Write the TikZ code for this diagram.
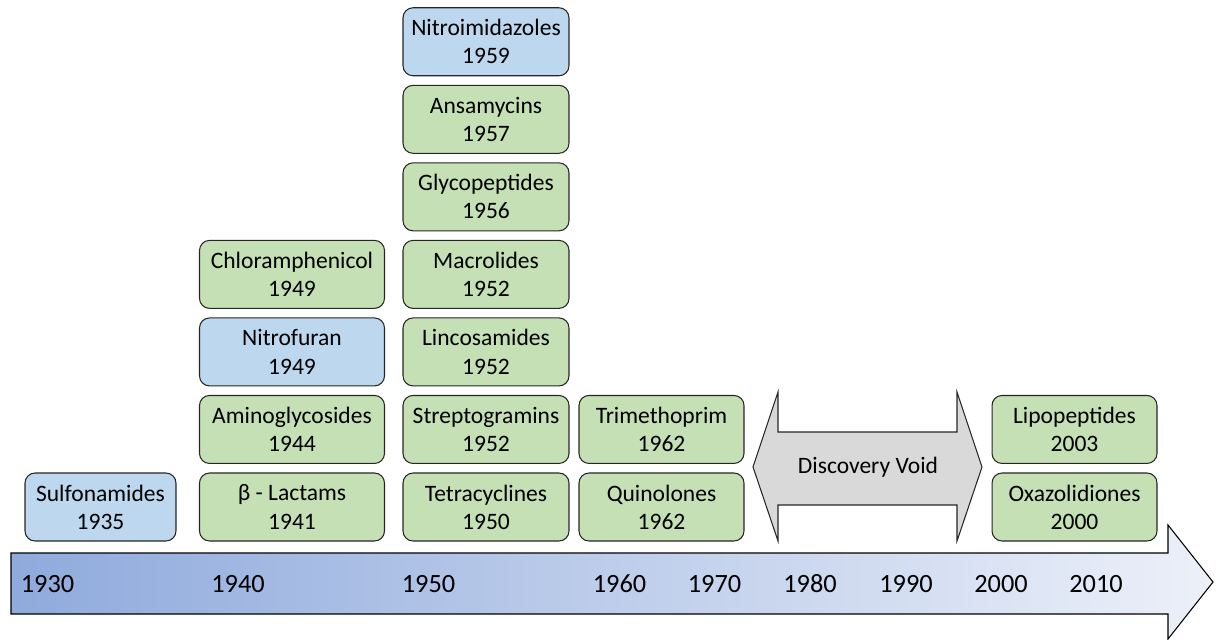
\documentclass[tikz,border=0pt]{standalone}
\usepackage{fontspec}
\setmainfont{Carlito}
\usetikzlibrary{positioning}

\definecolor{drugGreen}{HTML}{C5E0B4}
\definecolor{drugBlue}{HTML}{BDD7EE}
\definecolor{voidGray}{HTML}{D9D9D9}
\definecolor{lineLeft}{RGB}{143,170,220}
\definecolor{lineRight}{RGB}{236,240,249}

\begin{document}
\begin{tikzpicture}[x=0.02cm,y=-0.02cm]
        \tikzset{drug/.style={draw=black!85,line width=0.6pt,rounded corners=0.2cm,
                   minimum height=1.36cm,inner sep=0pt,align=center,
                   font=\fontsize{13.4}{16}\selectfont},
                 greendrug/.style={drug,fill=drugGreen},
                 bluedrug/.style={drug,fill=drugBlue},
                 year/.style={font=\fontsize{15}{16}\selectfont},
                 node distance=0.17cm}

        \useasboundingbox (0,0) rectangle (1216,639);

        % timeline
        \draw[line width=0.6pt,left color=lineLeft,right color=lineRight]
            (11,553) -- (1168,553) -- (1168,525) -- (1213,582) -- (1168,639)
            -- (1168,614) -- (11,614) -- cycle;

        \node[year] (y1930) at (47.5,584) {1930};
        \node[year] (y1940) at (238,584)  {1940};
        \node[year] (y1950) at (428.5,584) {1950};
        \node[year] (y1960) at (619.5,584) {1960};
        \node[year] (y1970) at (714.5,584) {1970};
        \node[year] (y1980) at (810,584)  {1980};
        \node[year] (y1990) at (906,584)  {1990};
        \node[year] (y2000) at (1001,584) {2000};
        \node[year] (y2010) at (1096,584) {2010};

        % 1930s
        \node[bluedrug,minimum width=3.02cm] (sulfa) at (100.5,507) {Sulfonamides\\1935};

        % 1940s
        \node[greendrug,minimum width=3.7cm] (lactam) at (292,507) {β - Lactams\\1941};
        \node[greendrug,minimum width=3.7cm,above=of lactam] (amino) {Aminoglycosides\\1944};
        \node[bluedrug,minimum width=3.7cm,above=of amino] (nitrofur) {Nitrofuran\\1949};
        \node[greendrug,minimum width=3.7cm,above=of nitrofur] (chloram) {Chloramphenicol\\1949};

        % 1950s
        \node[greendrug,minimum width=3.32cm] (tetra) at (486,507) {Tetracyclines\\1950};
        \node[greendrug,minimum width=3.32cm,above=of tetra] (strepto) {Streptogramins\\1952};
        \node[greendrug,minimum width=3.32cm,above=of strepto] (linco) {Lincosamides\\1952};
        \node[greendrug,minimum width=3.32cm,above=of linco] (macro) {Macrolides\\1952};
        \node[greendrug,minimum width=3.32cm,above=of macro] (glyco) {Glycopeptides\\1956};
        \node[greendrug,minimum width=3.32cm,above=of glyco] (ansa) {Ansamycins\\1957};
        \node[bluedrug,minimum width=3.32cm,above=of ansa] (nitroimid) {Nitroimidazoles\\1959};

        % 1960s
        \node[greendrug,minimum width=3.3cm] (quino) at (661.5,507) {Quinolones\\1962};
        \node[greendrug,minimum width=3.3cm,above=of quino] (trimeth) {Trimethoprim\\1962};

        % discovery void
        \draw[line width=0.6pt,draw=black!85,fill=voidGray]
            (753,467) -- (778,392) -- (778,432) -- (957,432) -- (957,392) -- (982,467)
            -- (957,541) -- (957,505) -- (778,505) -- (778,541) -- cycle;
        \node[font=\fontsize{13.4}{16}\selectfont] (void) at (868,467) {Discovery Void};

        % 2000s
        \node[greendrug,minimum width=3.3cm] (oxaz) at (1074.5,507) {Oxazolidiones\\2000};
        \node[greendrug,minimum width=3.3cm,above=of oxaz] (lipo) {Lipopeptides\\2003};
\end{tikzpicture}
\end{document}
